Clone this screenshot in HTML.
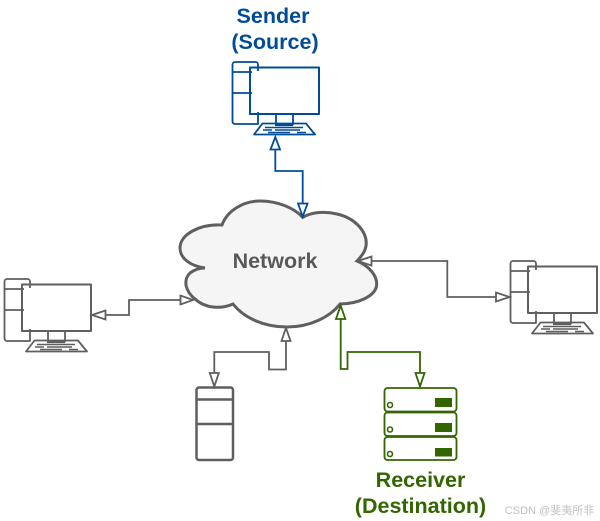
<!DOCTYPE html>
<html>
<head>
<meta charset="utf-8">
<style>
html,body{margin:0;padding:0;background:#fff;width:600px;height:521px;overflow:hidden}
svg{display:block}
text{font-family:"Liberation Sans",sans-serif;font-weight:bold;text-anchor:middle}
</style>
</head>
<body>
<svg width="600" height="521" viewBox="0 0 600 521" xmlns="http://www.w3.org/2000/svg">
<defs>
<g id="pc" fill="none" stroke-linejoin="round">
  <path d="M250 124H235a2.500 2.500 0 0 1-2.500-2.500V64.500A2.500 2.500 0 0 1 235 62H255.500A2.500 2.500 0 0 1 258 64.500V71M258 112V124H250M232.500 72H252M232.500 93H252" stroke-width="1.800"/>
  <rect x="250" y="67.500" width="69" height="46.500" stroke-width="2"/>
  <path d="M276 114V124.500H293V114" stroke-width="1.800"/>
  <path d="M262.500 123.500H306L315 134.500H254Z" stroke-width="1.800"/>
  <path d="M275 125H293" stroke-width="2.200"/>
  <path d="M265 127.500H303M263 130H272M275 130H300M268 132.500H290M297 132.500H306" stroke-width="1.400"/>
</g>
</defs>

<!-- Cloud -->
<path d="M302.700 217.300C312 212 325 211 337 214C355 218 368 232 366 246C365 252 361 257 357 261C369 266 378 276 376.500 286C375 296 358 304 340 304C330 317 310 327 287 327C264 327 244 318 233 304C222 309 206 309 195 299C185 291 183 280 190 273C194 270 199 268 205 268C190 266 180 258 180 248C180 234 200 224 222 225C227 211 243 201 260 201C278 201 294 208 302.700 217.300Z" fill="#f5f5f5" stroke="#5f5f5f" stroke-width="3"/>
<text x="275" y="268" font-size="21.500" fill="#595959">Network</text>

<!-- Sender -->
<g stroke="#004c99">
  <use href="#pc"/>
  <path d="M275.300 149V171H302.700V203" fill="none" stroke-width="1.800"/>
  <path d="M275.300 137L280 149.500H270.500Z M302.700 216.500L298 203.500H307.500Z" fill="#fff" stroke-width="1.800"/>
</g>
<text x="273" y="23" font-size="21.500" fill="#004c99">Sender</text>
<text x="275" y="49" font-size="21.500" fill="#004c99">(Source)</text>

<!-- Left computer -->
<g stroke="#5f5f5f">
  <use href="#pc" x="-228" y="217"/>
  <path d="M105 315H129V300H181" fill="none" stroke-width="1.800"/>
  <path d="M92 315L105.500 310.500V319.500Z M193 300L180.500 295.500V304.500Z" fill="#fff" stroke-width="1.800"/>
</g>

<!-- Right computer -->
<g stroke="#5f5f5f">
  <use href="#pc" x="278" y="199"/>
  <path d="M371 261H447.300V297H496" fill="none" stroke-width="1.800"/>
  <path d="M358 261L371.500 256.500V265.500Z M509.500 297L496 292.500V301.500Z" fill="#fff" stroke-width="1.800"/>
</g>

<!-- Bottom tower -->
<g stroke="#5f5f5f" fill="none">
  <path d="M286 341V369.500H269V352H214.300V373" stroke-width="1.800"/>
  <path d="M286 328L290.500 341H281.500Z M214.300 386.500L209.800 373H218.800Z" fill="#fff" stroke-width="1.800"/>
  <rect x="196.500" y="387.500" width="36.500" height="72.500" rx="2.500" stroke-width="2.500"/>
  <path d="M196.500 399.500H233M196.500 424H233" stroke-width="2.500"/>
</g>

<!-- Receiver -->
<g stroke="#336600" fill="none">
  <path d="M340.700 319V369H347.500V352H420V373" stroke-width="1.800"/>
  <path d="M340.700 305.500L345.300 319H336Z M420 386.500L415.500 373H424.500Z" fill="#fff" stroke-width="1.800"/>
  <rect x="384.500" y="388" width="72" height="23.500" rx="3" stroke-width="1.800"/>
  <rect x="384.500" y="412.500" width="72" height="23.500" rx="3" stroke-width="1.800"/>
  <rect x="384.500" y="437" width="72" height="23" rx="3" stroke-width="1.800"/>
  <circle cx="390" cy="405" r="2.500" stroke-width="1.600"/>
  <circle cx="390" cy="429.500" r="2.500" stroke-width="1.600"/>
  <circle cx="390" cy="454" r="2.500" stroke-width="1.600"/>
</g>
<g fill="#336600">
  <rect x="435" y="398" width="17" height="9"/>
  <rect x="435" y="423" width="17" height="9"/>
  <rect x="435" y="448" width="17" height="8.500"/>
</g>
<text x="420.500" y="487" font-size="21.500" fill="#336600">Receiver</text>
<text x="420.500" y="513" font-size="21.500" fill="#336600">(Destination)</text>

<!-- Watermark -->
<text x="549.500" y="514" font-size="11" fill="#c0c0c0" style="font-weight:normal;font-family:'Liberation Sans','Noto Sans CJK SC',sans-serif">CSDN @斐夷所非</text>
</svg>
</body>
</html>
